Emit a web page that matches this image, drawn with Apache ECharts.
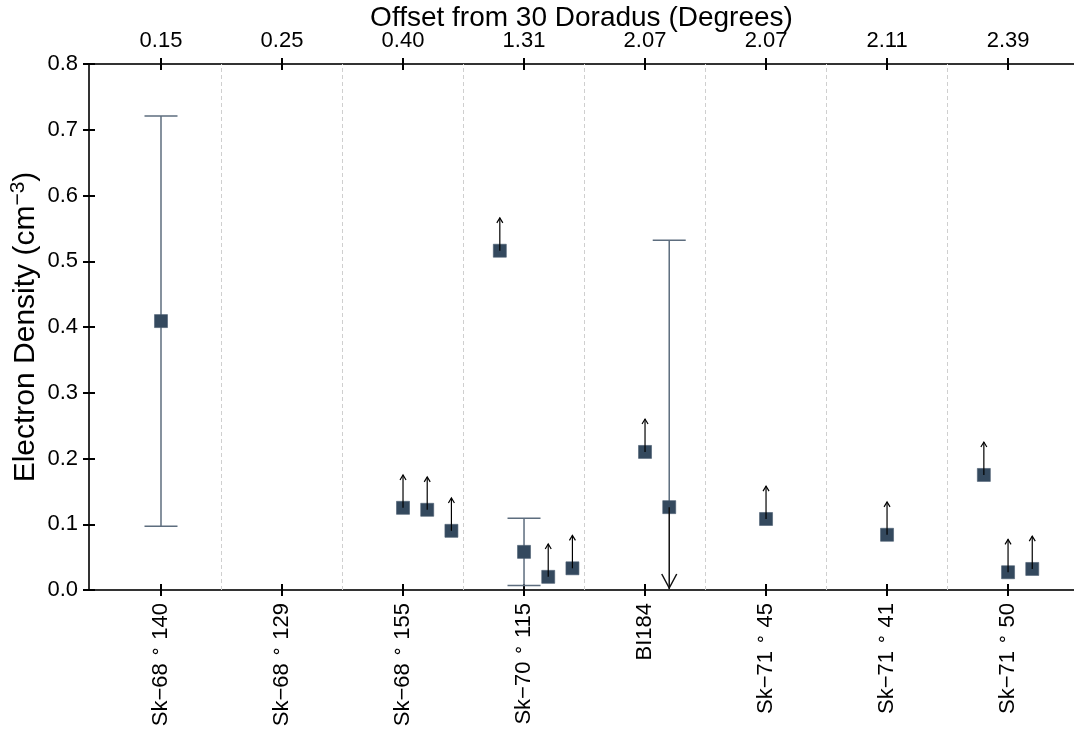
<!DOCTYPE html>
<html>
<head>
<meta charset="utf-8">
<script src="https://cdn.jsdelivr.net/npm/echarts@6/dist/echarts.min.js"></script>
<style>
  html, body { margin: 0; padding: 0; background: #fff; }
  #chart { width: 1074px; height: 736px; }
</style>
</head>
<body>
<div id="chart"></div>
<script>
// Sightline stars (catalogue prefix, number) and their angular offset from 30 Doradus
const starPrefix = ['Sk\u221268', 'Sk\u221268', 'Sk\u221268', 'Sk\u221270', 'BI184', 'Sk\u221271', 'Sk\u221271', 'Sk\u221271'];
const starNumber = ['140', '129', '155', '115', '', '45', '41', '50'];
const offsets = ['0.15', '0.25', '0.40', '1.31', '2.07', '2.07', '2.11', '2.39'];

// Electron density measurements; position = star index (+ shift for several components)
const pointPos = [0, 2, 2.2, 2.4, 2.8, 3, 3.2, 3.4, 4, 4.2, 5, 6, 6.8, 7, 7.2];
const density = [0.409, 0.125, 0.122, 0.090, 0.516, 0.058, 0.020, 0.033, 0.210, 0.126, 0.108, 0.084, 0.175, 0.027, 0.032];
const isLowerLimit = [0, 1, 1, 1, 1, 0, 1, 1, 1, 0, 1, 1, 1, 1, 1];

// Error bars (null lower bound: bar starts at the measured value)
const errPos = [0, 3, 4.2];
const errLow = [0.097, 0.007, null];
const errHigh = [0.721, 0.109, 0.532];

// Upper limits drawn as an arrow down to zero
const upperPos = [4.2];
const upperVal = [0.126];

const FONT = '"Liberation Sans", Arial, Helvetica, sans-serif';
const X_MIN = -0.595, X_MAX = 7.545;
const catTicks = starPrefix.map((_, i) => i);
const MARK = '#34495e';
const ERR = '#5d6d7e';

function starLabel(i) {
  if (!starNumber[i]) return '{n|' + starPrefix[i] + '}';
  return '{n|' + starPrefix[i] + ' }{d|\u2218}{n| ' + starNumber[i] + '}';
}

const chart = echarts.init(document.getElementById('chart'));

function xAxisDef(position, inside, withLabels) {
  return {
    type: 'value', position: position, min: X_MIN, max: X_MAX,
    axisLine: { show: !inside, onZero: false, lineStyle: { color: '#333', width: 2 } },
    axisTick: { show: true, inside: inside, length: 6, customValues: catTicks,
      lineStyle: { color: '#000', width: 2 } },
    axisLabel: withLabels ? Object.assign({ show: true, customValues: catTicks, color: '#000',
      fontFamily: FONT, fontSize: 22 }, withLabels) : { show: false },
    splitLine: { show: false }
  };
}

function yAxisDef(inside, withLabels) {
  return {
    type: 'value', position: 'left', min: 0, max: 0.8, interval: 0.1,
    axisLine: { show: !inside, onZero: false, lineStyle: { color: '#333', width: 2 } },
    axisTick: { show: true, inside: inside, length: 6, lineStyle: { color: '#000', width: 2 } },
    axisLabel: withLabels ? { show: true, color: '#000', fontFamily: FONT, fontSize: 22, margin: 11,
      formatter: v => v.toFixed(1) } : { show: false },
    splitLine: { show: false }
  };
}

const bottomAxis = xAxisDef('bottom', false, {
  rotate: 90, margin: 13,
  formatter: v => starLabel(Math.round(v)),
  rich: {
    n: { fontFamily: FONT, fontSize: 22, color: '#000' },
    d: { fontFamily: '"DejaVu Sans", sans-serif', fontSize: 18, color: '#000', padding: [0, 0, 9, 0] }
  }
});
const topAxis = xAxisDef('top', false, {
  margin: 12,
  formatter: v => offsets[Math.round(v)]
});
topAxis.name = 'Offset from 30 Doradus (Degrees)';
topAxis.nameLocation = 'middle';
topAxis.nameGap = 32;
topAxis.nameMoveOverlap = false;
topAxis.nameTextStyle = { color: '#000', fontFamily: FONT, fontSize: 28 };

const leftAxis = yAxisDef(false, true);
leftAxis.name = 'Electron Density (cm{sup|\u22123})';
leftAxis.nameLocation = 'middle';
leftAxis.nameGap = 46;
leftAxis.nameMoveOverlap = false;
leftAxis.nameTextStyle = {
  color: '#000', fontFamily: FONT, fontSize: 30, lineHeight: 34,
  rich: { sup: { fontSize: 21, fontFamily: FONT, color: '#000', padding: [0, 0, 15, 0] } }
};

const errData = errPos.map((p, i) => {
  const mid = density[pointPos.indexOf(p)];
  return [p, errLow[i] == null ? mid : errLow[i], errHigh[i], errLow[i] == null ? 0 : 1];
});
const limitData = pointPos.map((p, i) => [p, density[i]]).filter((_, i) => isLowerLimit[i]);
const upperData = upperPos.map((p, i) => [p, upperVal[i]]);

const option = {
  animation: false,
  backgroundColor: '#fff',
  grid: { left: 89, right: 0, top: 64, bottom: 146, containLabel: false, outerBoundsMode: 'none' },
  xAxis: [bottomAxis, xAxisDef('bottom', true, null), topAxis, xAxisDef('top', true, null)],
  yAxis: [leftAxis, yAxisDef(true, false)],
  series: [
    {
      // dashed separators between stars
      type: 'scatter', data: [], silent: true,
      markLine: {
        silent: true, symbol: 'none', label: { show: false },
        lineStyle: { color: '#cfcfcf', type: [4, 3], width: 1 },
        data: starPrefix.slice(1).map((_, i) => ({ xAxis: i + 0.5 }))
      },
      z: 0
    },
    {
      type: 'custom', z: 1, silent: true,
      data: errData,
      renderItem: (params, api) => {
        const x = api.value(0);
        const lo = api.coord([x, api.value(1)]);
        const hi = api.coord([x, api.value(2)]);
        const cap = 16.5;
        const style = { stroke: ERR, lineWidth: 1.5 };
        const children = [
          { type: 'line', shape: { x1: lo[0], y1: lo[1], x2: hi[0], y2: hi[1] }, style: style },
          { type: 'line', shape: { x1: hi[0] - cap, y1: hi[1], x2: hi[0] + cap, y2: hi[1] }, style: style }
        ];
        if (api.value(3)) {
          children.push({ type: 'line', shape: { x1: lo[0] - cap, y1: lo[1], x2: lo[0] + cap, y2: lo[1] }, style: style });
        }
        return { type: 'group', children: children };
      }
    },
    {
      type: 'scatter', z: 2, silent: true,
      symbol: 'rect', symbolSize: 13,
      itemStyle: { color: MARK, borderColor: '#4a5d70', borderWidth: 0.6, opacity: 1 },
      data: pointPos.map((p, i) => [p, density[i]])
    },
    {
      // lower limits: short arrow pointing up
      type: 'custom', z: 3, silent: true,
      data: limitData,
      renderItem: (params, api) => {
        const x = api.value(0), y = api.value(1);
        const p0 = api.coord([x, y]);
        const p1 = api.coord([x, y + 0.05]);
        const style = { stroke: '#000', lineWidth: 1.2, fill: 'none' };
        return { type: 'group', children: [
          { type: 'line', shape: { x1: p0[0], y1: p0[1], x2: p1[0], y2: p1[1] }, style: style },
          { type: 'polyline', shape: { points: [[p1[0] - 3, p1[1] + 5], [p1[0], p1[1]], [p1[0] + 3, p1[1] + 5]] }, style: style }
        ] };
      }
    },
    {
      // upper limit: arrow down to zero
      type: 'custom', z: 3, silent: true,
      data: upperData,
      renderItem: (params, api) => {
        const x = api.value(0), y = api.value(1);
        const p0 = api.coord([x, y]);
        const p1 = api.coord([x, 0]);
        const style = { stroke: '#111', lineWidth: 1.5, fill: 'none' };
        return { type: 'group', children: [
          { type: 'line', shape: { x1: p0[0], y1: p0[1], x2: p1[0], y2: p1[1] - 1 }, style: style },
          { type: 'polyline', shape: { points: [[p1[0] - 7.5, p1[1] - 16], [p1[0], p1[1] - 2], [p1[0] + 7.5, p1[1] - 16]] }, style: style }
        ] };
      }
    }
  ]
};

chart.setOption(option);
</script>
</body>
</html>
